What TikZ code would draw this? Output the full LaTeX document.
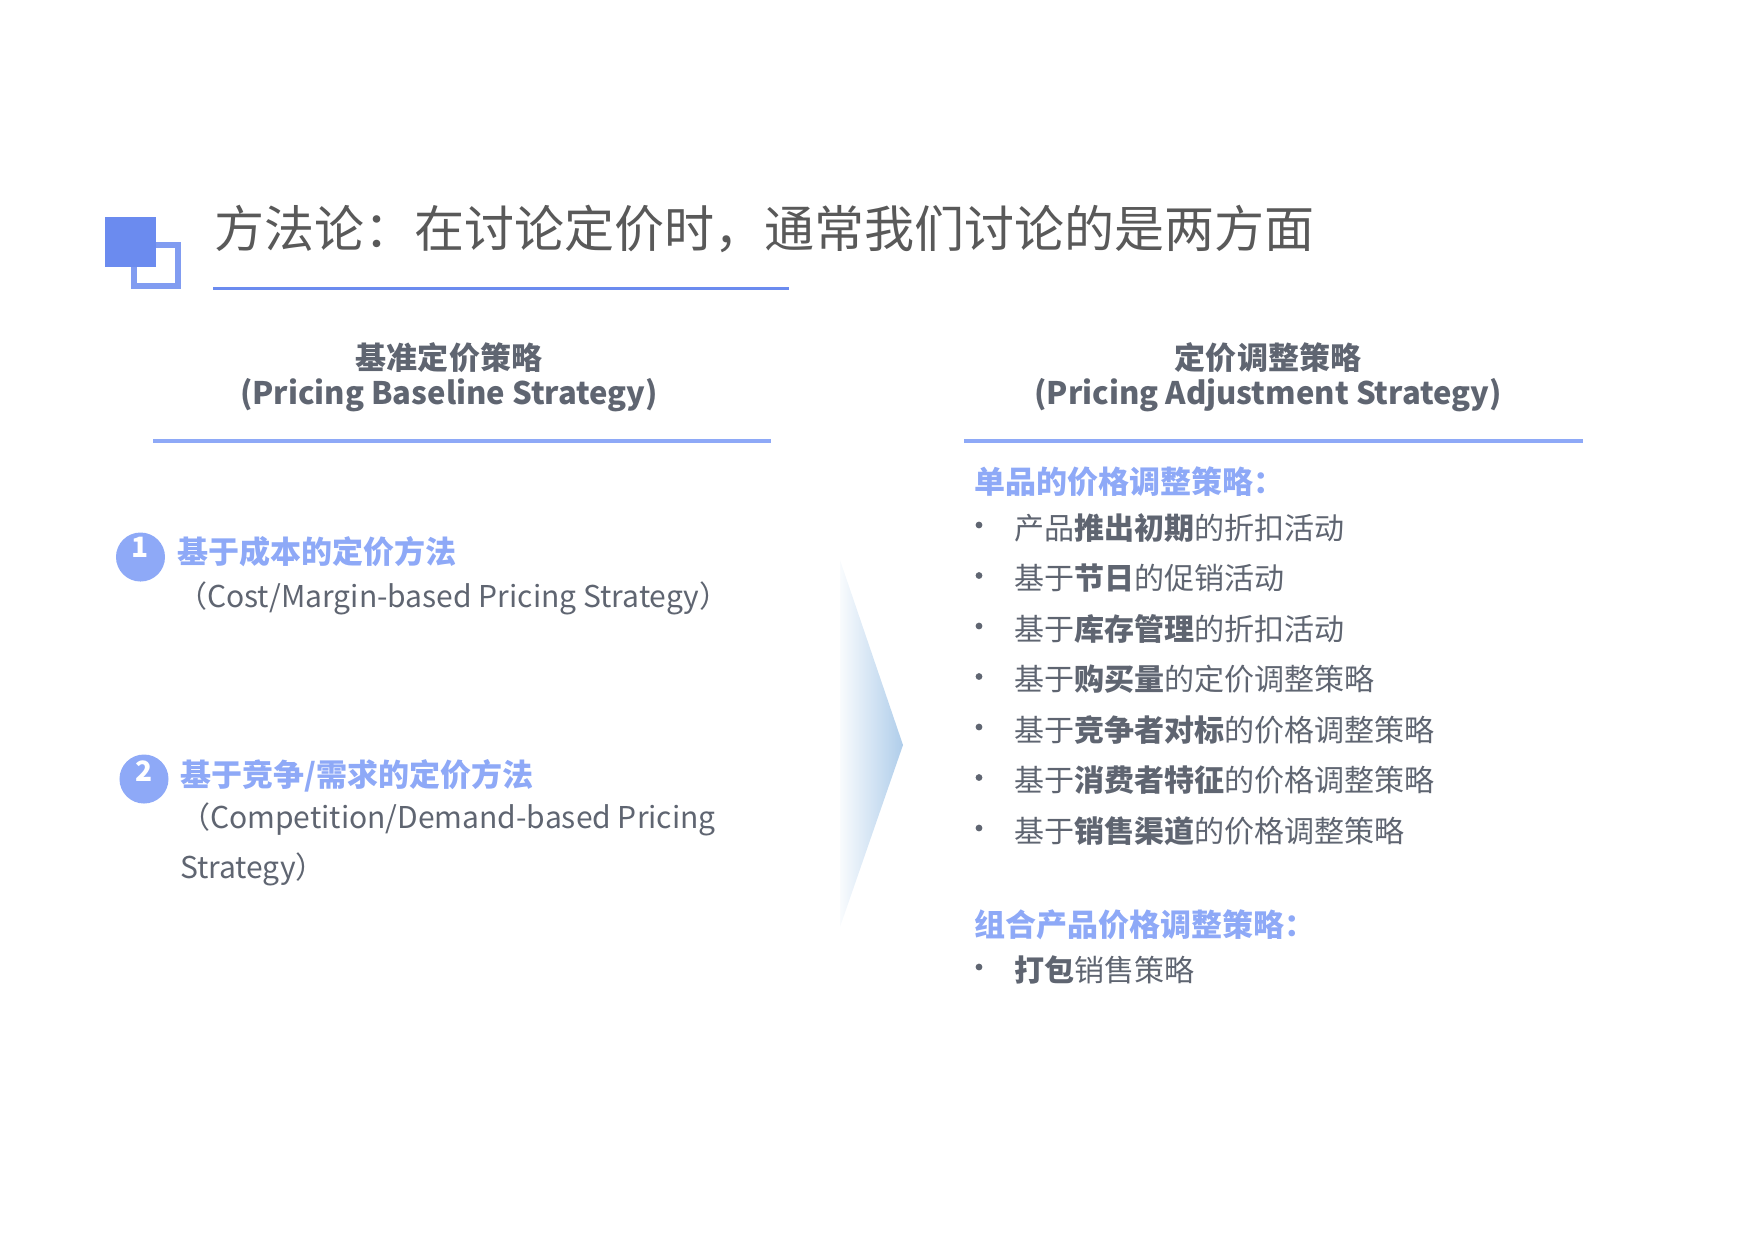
\documentclass[tikz,border=0pt]{standalone}
\usepackage{fontspec}
\setmainfont{Noto Sans CJK SC}
\usetikzlibrary{positioning}
\definecolor{titlegray}{HTML}{595959}
\definecolor{textgray}{HTML}{5F6571}
\definecolor{iconblue}{HTML}{6B8BEF}
\definecolor{lightblue}{HTML}{8EA9F7}
\definecolor{arrowblue}{HTML}{AFCDEA}
\tikzset{basic/.style={inner sep=0pt,outer sep=0pt,text=textgray,
                       font=\fontsize{8.54pt}{10pt}\selectfont}}
\tikzset{heading/.style={basic,anchor=base,font=\fontsize{8.82pt}{10pt}\selectfont\bfseries}}
\tikzset{point/.style={basic,anchor=base west}}
\def\rowsep{50.5}

\begin{document}
\begin{tikzpicture}[x=0.01cm,y=-0.01cm]
    \tikzstyle{marker}=[circle,fill=lightblue,minimum size=0.49cm,inner sep=0pt]
    \tikzstyle{num}=[basic,text=white,font=\fontsize{7.97pt}{9pt}\selectfont\bfseries]
    \tikzstyle{dot}=[circle,fill=textgray,minimum size=0.068cm,inner sep=0pt]
    \tikzstyle{topic}=[point,text=lightblue,font=\fontsize{8.82pt}{10pt}\selectfont\bfseries]
    \useasboundingbox (0,0) rectangle (1755,1241);

    % icon and title
    \draw[iconblue!85,line width=0.06cm] (133.5,244.5) rectangle (177.5,285.5);
    \fill[iconblue] (105,217) rectangle (156,267);
    \node[point,text=titlegray,font=\fontsize{14.23pt}{16pt}\selectfont] (title) at (214,247)
        {方法论：在讨论定价时，通常我们讨论的是两方面};
    \draw[iconblue,line width=0.03cm] (213,288) -- (789,288);

    % headers
    \node[heading] (basecn) at (449,369) {基准定价策略};
    \node[heading] (baseen) at (449,404) {(Pricing Baseline Strategy)};
    \node[heading] (adjcn) at (1268,369) {定价调整策略};
    \node[heading] (adjen) at (1268,404) {(Pricing Adjustment Strategy)};
    \draw[lightblue,line width=0.04cm] (153,440.5) -- (771,440.5);
    \draw[lightblue,line width=0.04cm] (964,440.5) -- (1583,440.5);

    % left column
    \node[marker] (m1) at (140.5,557) {};
    \node[num] at ([yshift=0.1cm]m1.center) {1};
    \node[topic] (t1) at (177,563) {基于成本的定价方法};
    \node[point] (e1) at (177,607) {（Cost/Margin-based Pricing Strategy）};

    \node[marker] (m2) at (144,779) {};
    \node[num] at ([yshift=0.08cm]m2.center) {2};
    \node[topic] (t2) at (180,786) {基于竞争/需求的定价方法};
    \node[point] (e2) at (180,828) {（Competition/Demand-based Pricing};
    \node[point] (e2b) at (180,878) {Strategy）};

    % arrow
    \shade[left color=arrowblue!8,right color=arrowblue] (840,560) -- (903,745) -- (840,927) -- cycle;

    % right column
    \node[topic] (single) at (974,493) {单品的价格调整策略：};
    \foreach \h [count=\hi] in {{产品\textbf{推出初期}的折扣活动},{基于\textbf{节日}的促销活动},
        {基于\textbf{库存管理}的折扣活动},{基于\textbf{购买量}的定价调整策略},
        {基于\textbf{竞争者对标}的价格调整策略},{基于\textbf{消费者特征}的价格调整策略},
        {基于\textbf{销售渠道}的价格调整策略}}{%
          \node[point] (p\hi) at (1014,{539+(\hi-1)*\rowsep}) {\h};
          \node[dot] (d\hi) at (979,{525+(\hi-1)*\rowsep}) {};
        }
    \node[topic] (combo) at (974,936) {组合产品价格调整策略：};
    \node[point] (p8) at (1014,981) {\textbf{打包}销售策略};
    \node[dot] (d8) at (979,967) {};
\end{tikzpicture}
\end{document}
